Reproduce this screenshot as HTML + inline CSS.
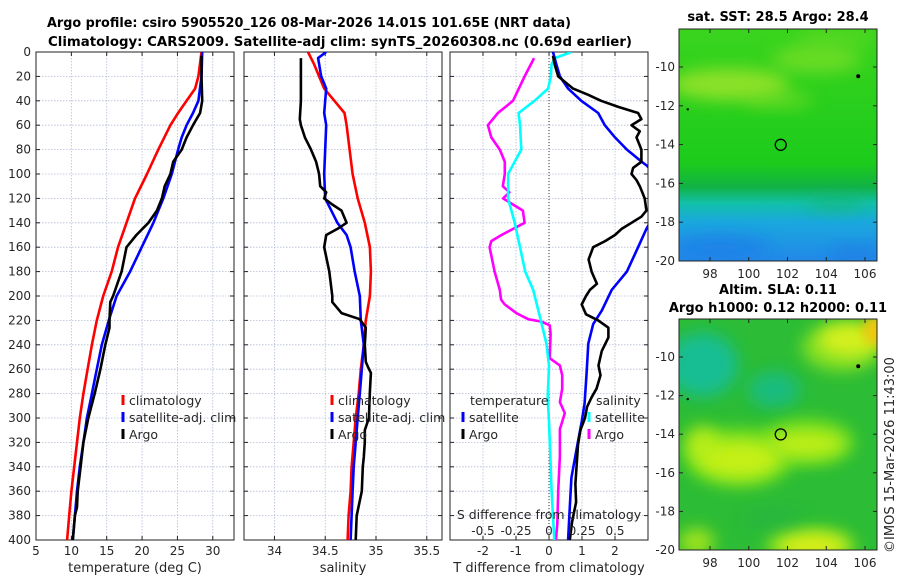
<!DOCTYPE html>
<html><head><meta charset="utf-8"><title>Argo profile</title>
<style>
html,body{margin:0;padding:0;background:#fff;}
svg{display:block;font-family:"DejaVu Sans","Liberation Sans",sans-serif;}
</style></head>
<body>
<svg id="chart" width="900" height="580" viewBox="0 0 900 580" xmlns="http://www.w3.org/2000/svg">
<defs>
<filter id="blur8" x="-50%" y="-50%" width="200%" height="200%"><feGaussianBlur stdDeviation="8"/></filter>
<filter id="blur5" x="-50%" y="-50%" width="200%" height="200%"><feGaussianBlur stdDeviation="5"/></filter>
<clipPath id="clipP1"><rect x="36" y="52" width="198" height="488"/></clipPath>
<clipPath id="clipP2"><rect x="244" y="52" width="198" height="488"/></clipPath>
<clipPath id="clipP3"><rect x="450" y="52" width="198" height="488"/></clipPath>
<clipPath id="clipM1"><rect x="679" y="29" width="198" height="232"/></clipPath>
<clipPath id="clipM2"><rect x="679" y="319" width="198" height="231"/></clipPath>
<linearGradient id="sstGrad" x1="0" y1="0" x2="0" y2="1">
<stop offset="0" stop-color="#3ad41e"/>
<stop offset="0.58" stop-color="#1ccb1c"/>
<stop offset="0.68" stop-color="#12b244"/>
<stop offset="0.75" stop-color="#12c0a8"/>
<stop offset="0.83" stop-color="#1aa8de"/>
<stop offset="1" stop-color="#2288e8"/>
</linearGradient>
</defs>
<text x="309" y="27" text-anchor="middle" font-size="13" font-weight="bold" textLength="524" lengthAdjust="spacingAndGlyphs">Argo profile: csiro 5905520_126 08-Mar-2026 14.01S 101.65E (NRT data)</text>
<text x="340" y="46" text-anchor="middle" font-size="13" font-weight="bold" textLength="584" lengthAdjust="spacingAndGlyphs">Climatology: CARS2009. Satellite-adj clim: synTS_20260308.nc (0.69d earlier)</text>
</svg>
<script>
// ---------- data ----------
const depthTicks = [0,20,40,60,80,100,120,140,160,180,200,220,240,260,280,300,320,340,360,380,400];
const tempTicks = [5,10,15,20,25,30];
const salTicks = [34,34.5,35,35.5];
const tdiffTicks = [-2,-1,0,1,2];
const sdiffTicks = [-0.5,-0.25,0,0.25,0.5];
const sdiffTickLabels = ["-0.5","-0.25","0","0.25","0.5"];

const tClimDepth = [0,20,30,40,50,60,80,100,120,140,160,180,200,220,240,260,280,300,320,340,360,380,400];
const tClimVal   = [28.4,27.96,27.5,26.3,25.1,24.0,22.3,20.7,19.0,17.8,16.6,15.7,14.5,13.6,12.9,12.3,11.7,11.2,10.8,10.4,10.0,9.7,9.4];
const tSatDepth = [0,20,40,50,60,70,80,100,120,140,160,180,200,220,240,260,280,300,320,340,360,380,400];
const tSatVal   = [28.5,28.4,27.96,27.2,26.3,25.6,25.1,24.2,23.0,21.6,19.95,18.3,16.4,15.3,14.3,13.6,12.9,12.2,11.7,11.2,10.8,10.5,10.2];
const tArgoDepth = [3,20,40,50,55,60,70,80,90,100,110,120,130,140,150,155,160,180,200,205,220,226,240,260,280,300,320,340,360,373,380,400];
const tArgoVal   = [28.4,28.4,28.5,28.2,27.7,27.2,26.3,25.6,24.4,24.0,23.2,22.8,22.1,20.9,19.2,18.5,17.8,17.1,15.9,15.5,15.4,15.4,14.8,14.1,13.3,12.4,11.7,11.3,10.9,10.8,10.5,10.2];

const sClimDepth = [0,10,20,30,40,50,60,80,100,120,140,160,180,200,220,240,260,280,300,320,340,360,380,400];
const sClimVal   = [34.33,34.39,34.44,34.49,34.59,34.69,34.71,34.74,34.77,34.82,34.89,34.94,34.95,34.94,34.90,34.88,34.85,34.83,34.80,34.78,34.76,34.75,34.73,34.72];
const sSatDepth = [0,5,20,30,40,50,60,80,100,120,130,140,150,160,180,200,220,240,260,280,300,320,340,360,380,400];
const sSatVal   = [34.51,34.43,34.46,34.51,34.50,34.49,34.51,34.50,34.49,34.50,34.56,34.62,34.71,34.75,34.79,34.84,34.85,34.88,34.86,34.84,34.82,34.80,34.78,34.77,34.76,34.75];
const sArgoDepth = [5,20,40,55,60,70,80,90,100,110,115,120,125,130,140,145,150,160,180,200,205,214,219,226,240,254,258,263,278,300,310,320,332,340,360,380,400];
const sArgoVal   = [34.26,34.26,34.26,34.25,34.26,34.30,34.36,34.41,34.44,34.45,34.51,34.49,34.57,34.66,34.71,34.62,34.51,34.49,34.54,34.57,34.57,34.66,34.84,34.90,34.89,34.90,34.92,34.95,34.94,34.93,34.89,34.89,34.88,34.87,34.86,34.81,34.80];

const dTSatDepth = [0,10,20,30,40,50,60,70,80,90,93,97,138,145,160,180,195,212,223,239,263,288,303,325,349,373,400];
const dTSatVal   = [0.12,0.22,0.33,0.58,0.98,1.49,1.69,2.0,2.36,2.81,2.96,3.1,3.1,2.95,2.7,2.36,1.9,1.6,1.34,1.19,1.14,1.08,0.99,0.84,0.68,0.63,0.58];
const dTArgoDepth = [3,10,20,30,35,40,45,50,55,60,65,70,80,90,95,100,105,110,120,130,135,140,145,150,155,160,170,180,190,195,200,207,215,220,226,234,245,257,265,276,283,291,300,310,322,338,354,369,385,400];
const dTArgoVal   = [0.12,0.17,0.28,0.73,1.18,1.58,2.1,2.7,2.8,2.5,2.75,2.65,2.8,2.8,2.55,2.5,2.65,2.75,2.9,2.95,2.8,2.5,2.2,2.0,1.7,1.34,1.2,1.29,1.45,1.24,1.12,0.99,1.12,1.49,1.8,1.8,1.6,1.5,1.56,1.44,1.29,1.15,1.09,0.95,0.88,0.84,0.8,0.82,0.7,0.63];
const dSSatDepth = [0,5,10,20,30,40,50,60,80,90,100,120,140,160,180,195,221,239,257,283,303,331,360,400];
const dSSatVal   = [0.17,0.044,0.02,0.014,-0.007,-0.11,-0.23,-0.22,-0.21,-0.26,-0.31,-0.31,-0.26,-0.22,-0.18,-0.12,-0.06,-0.02,0.0,-0.01,0.0,0.01,0.02,0.04];
const dTArgoMinusClimDepth = [5,20,40,50,60,70,80,90,100,110,115,120,130,140,150,155,160,180,195,203,207,214,219,221,224,231,251,257,265,276,287,296,303,309,331,360,387,400];
const dTArgoMinusClimVal   = [-0.45,-0.74,-1.09,-1.55,-1.85,-1.75,-1.49,-1.34,-1.34,-1.4,-1.2,-1.39,-0.79,-0.74,-1.44,-1.75,-1.8,-1.65,-1.49,-1.45,-1.34,-0.99,-0.63,-0.23,0.02,0.05,0.02,0.33,0.4,0.4,0.33,0.48,0.4,0.33,0.33,0.28,0.25,0.21];

const mapLonTicks = [98,100,102,104,106];
const mapLatTicks = [-10,-12,-14,-16,-18,-20];
const argoLon = 101.65, argoLat = -14.01;

// ---------- helpers ----------
const NS = "http://www.w3.org/2000/svg";
const svg = document.getElementById('chart');
function mk(tag, attrs, parent){
  const e = document.createElementNS(NS, tag);
  for (const k in attrs) e.setAttribute(k, attrs[k]);
  (parent || svg).appendChild(e);
  return e;
}
const Y0 = 52, Y1 = 540;
function yScale(d){ return Y0 + (d/400)*(Y1-Y0); }
function linScale(d0,d1,r0,r1){ return v => r0 + (v-d0)/(d1-d0)*(r1-r0); }

const panels = [
  {name:'temperature', x0:36, x1:234, sx: linScale(5,33,36,234), ticks: tempTicks, clip:'clipP1', label:'temperature (deg C)'},
  {name:'salinity', x0:244, x1:442, sx: linScale(33.7,35.65,244,442), ticks: salTicks, clip:'clipP2', label:'salinity'},
  {name:'difference', x0:450, x1:648, sx: linScale(-3,3,450,648), ticks: tdiffTicks, clip:'clipP3', label:'T difference from climatology'}
];
const sDiffScale = linScale(-0.75,0.75,450,648);

function drawPanel(p){
  const g = mk('g', {});
  
  
  for (const d of depthTicks){
    if (d===0 || d===400) continue;
    const l = mk('line', {x1:p.x0, x2:p.x1, y1:yScale(d), y2:yScale(d), stroke:'#b4bcd8', 'stroke-width':0.8, 'stroke-dasharray':'1.5,1.5'}, g);
    
    
  }
  for (const t of p.ticks){
    const x = p.sx(t);
    const l = mk('line', {x1:x, x2:x, y1:Y0, y2:Y1, stroke:'#b4bcd8', 'stroke-width':0.8, 'stroke-dasharray':'1.5,1.5'}, g);
    
    
    for (const yy of [[Y0,Y0+4],[Y1,Y1-4]]){
      const tk = mk('line', {x1:x, x2:x, y1:yy[0], y2:yy[1], stroke:'#222', 'stroke-width':1}, g);
      
      
    }
    const tl = mk('text', {x:x, y:555, 'text-anchor':'middle', 'font-size':12, fill:'#262626'}, g);
    
    
    tl.textContent = String(t);
  }
  for (const d of depthTicks){
    for (const xx of [[p.x0,p.x0+4],[p.x1,p.x1-4]]){
      const tk = mk('line', {x1:xx[0], x2:xx[1], y1:yScale(d), y2:yScale(d), stroke:'#222', 'stroke-width':1}, g);
      
      
    }
  }
  const fr = mk('rect', {x:p.x0, y:Y0, width:p.x1-p.x0, height:Y1-Y0, fill:'none', stroke:'#222', 'stroke-width':1}, g);
  
  
  const al = mk('text', {x:(p.x0+p.x1)/2, y:572, 'text-anchor':'middle', 'font-size':13, fill:'#262626'}, g);
  
  
  al.textContent = p.label;
  return g;
}
panels.forEach(drawPanel);

for (const d of depthTicks){
  const t = mk('text', {x:31, y:yScale(d)+4, 'text-anchor':'end', 'font-size':12, fill:'#262626'});
  
  
  t.textContent = String(d);
}

const zl = mk('line', {x1:panels[2].sx(0), x2:panels[2].sx(0), y1:Y0, y2:Y1, stroke:'#333', 'stroke-width':1, 'stroke-dasharray':'1,2'});



function series(depths, vals, sx, color, clip, name){
  let d = '';
  for (let i=0;i<depths.length;i++){
    d += (i?'L':'M') + sx(vals[i]).toFixed(1) + ',' + yScale(depths[i]).toFixed(1);
  }
  const p = mk('path', {d:d, fill:'none', stroke:color, 'stroke-width':2.6, 'stroke-linejoin':'round', 'clip-path':'url(#'+clip+')'});
  
  
}
series(tClimDepth, tClimVal, panels[0].sx, '#ff0000', 'clipP1', 'temperature-climatology-line');
series(tSatDepth, tSatVal, panels[0].sx, '#0000ff', 'clipP1', 'temperature-satellite-line');
series(tArgoDepth, tArgoVal, panels[0].sx, '#000000', 'clipP1', 'temperature-argo-line');
series(sClimDepth, sClimVal, panels[1].sx, '#ff0000', 'clipP2', 'salinity-climatology-line');
series(sSatDepth, sSatVal, panels[1].sx, '#0000ff', 'clipP2', 'salinity-satellite-line');
series(sArgoDepth, sArgoVal, panels[1].sx, '#000000', 'clipP2', 'salinity-argo-line');
series(dTArgoMinusClimDepth, dTArgoMinusClimVal, panels[2].sx, '#ff00ff', 'clipP3', 'salinity-argo-diff-line');
series(dSSatDepth, dSSatVal, sDiffScale, '#00ffff', 'clipP3', 'salinity-satellite-diff-line');
series(dTSatDepth, dTSatVal, panels[2].sx, '#0000ff', 'clipP3', 'temperature-satellite-diff-line');
series(dTArgoDepth, dTArgoVal, panels[2].sx, '#000000', 'clipP3', 'temperature-argo-diff-line');

const sdt = mk('text', {x:549, y:519, 'text-anchor':'middle', 'font-size':12.5, fill:'#262626'});


sdt.textContent = 'S difference from climatology';
for (let i=0;i<sdiffTicks.length;i++){
  const t = mk('text', {x:sDiffScale(sdiffTicks[i]), y:535, 'text-anchor':'middle', 'font-size':12, fill:'#262626'});
  
  
  t.textContent = sdiffTickLabels[i];
}

function legendEntry(x, y, color, label, name){
  const m = mk('line', {x1:x, x2:x, y1:y-10, y2:y, stroke:color, 'stroke-width':3});
  
  
  const t = mk('text', {x:x+6, y:y, 'font-size':12.5, fill:'#262626'});
  
  
  t.textContent = label;
}
legendEntry(123, 405, '#ff0000', 'climatology', 'legend-entry-climatology');
legendEntry(123, 422, '#0000ff', 'satellite-adj. clim', 'legend-entry-satellite');
legendEntry(123, 439, '#000000', 'Argo', 'legend-entry-argo');
legendEntry(332, 405, '#ff0000', 'climatology', 'legend-entry-sal-climatology');
legendEntry(332, 422, '#0000ff', 'satellite-adj. clim', 'legend-entry-sal-satellite');
legendEntry(332, 439, '#000000', 'Argo', 'legend-entry-sal-argo');
const lt1 = mk('text', {x:470, y:405, 'font-size':12.5, fill:'#262626'});


lt1.textContent = 'temperature';
legendEntry(463, 422, '#0000ff', 'satellite', 'legend-entry-tdiff-satellite');
legendEntry(463, 439, '#000000', 'Argo', 'legend-entry-tdiff-argo');
const lt2 = mk('text', {x:596, y:405, 'font-size':12.5, fill:'#262626'});


lt2.textContent = 'salinity';
legendEntry(589, 422, '#00ffff', 'satellite', 'legend-entry-sdiff-satellite');
legendEntry(589, 439, '#ff00ff', 'Argo', 'legend-entry-sdiff-argo');

// ---------- maps ----------
function drawMap(m){
  const lonX = linScale(98,106,710,865);
  const latY = linScale(-10,-20,m.yTop10,m.yBot20);
  const g = mk('g', {'clip-path':'url(#'+m.clip+')'});
  
  
  const bg = mk('rect', {x:679, y:m.y0, width:198, height:m.y1-m.y0, fill:m.bg}, g);
  
  
  for (const b of m.blobs){
    const e = mk('ellipse', {cx:lonX(b[0]), cy:latY(b[1]), rx:b[2], ry:b[3], fill:b[4], opacity:b[5], filter:'url(#'+(b[6]||'blur8')+')'}, g);
    
    
  }
  const fr = mk('rect', {x:679, y:m.y0, width:198, height:m.y1-m.y0, fill:'none', stroke:'#222', 'stroke-width':1});
  
  
  for (const lon of mapLonTicks){
    const x = lonX(lon);
    const tk = mk('line', {x1:x, x2:x, y1:m.y1, y2:m.y1-4, stroke:'#222'});
    
    
    const tk2 = mk('line', {x1:x, x2:x, y1:m.y0, y2:m.y0+4, stroke:'#222'});
    
    
    const t = mk('text', {x:x, y:m.y1+17, 'text-anchor':'middle', 'font-size':12, fill:'#262626'});
    
    
    t.textContent = String(lon);
  }
  for (const lat of mapLatTicks){
    const y = latY(lat);
    const tk = mk('line', {x1:679, x2:683, y1:y, y2:y, stroke:'#222'});
    
    
    const tk2 = mk('line', {x1:877, x2:873, y1:y, y2:y, stroke:'#222'});
    
    
    const t = mk('text', {x:675, y:y+4, 'text-anchor':'end', 'font-size':12, fill:'#262626'});
    
    
    t.textContent = String(lat);
  }
  const c = mk('circle', {cx:lonX(argoLon), cy:latY(argoLat), r:5.5, fill:'none', stroke:'#000', 'stroke-width':1.3});
  
  
  for (const isl of [[105.65,-10.48,2],[96.85,-12.18,1.2]]){
    const s = mk('circle', {cx:lonX(isl[0]), cy:latY(isl[1]), r:isl[2], fill:'#000'});
    
    
  }
}
drawMap({name:'sst-map', clip:'clipM1', y0:29, y1:261, yTop10:67, yBot20:261, bg:'url(#sstGrad)',
  blobs:[[99,-10.9,60,16,'#9ee42a',0.85],[103.5,-9.6,45,14,'#8ee22a',0.6],[101.5,-11.7,35,9,'#86e028',0.55],[104.5,-8.5,40,10,'#7cde26',0.4],[98.5,-19.3,50,12,'#1c7ee8',0.75],[105.5,-19.6,25,8,'#1c78e4',0.6],[104.5,-17.0,30,10,'#14b470',0.5]]});
drawMap({name:'sla-map', clip:'clipM2', y0:319, y1:550, yTop10:357, yBot20:550, bg:'#2cbc36',
  blobs:[[97.6,-10.4,36,32,'#14be98',0.95],[101.3,-11.7,26,18,'#16bc8c',0.85],[99.5,-15.2,55,30,'#6ede22',0.9],[103,-14.4,48,24,'#6ede22',0.9],[99.5,-15.3,42,20,'#c4f018',1],[103,-14.5,38,14,'#bcee18',1],[97.6,-14.5,18,18,'#c0f018',0.85],[104.8,-9.5,40,24,'#8ee420',0.9],[105.2,-9.1,30,16,'#d6f01a',1],[106.6,-8.6,14,16,'#f4c810',0.95,'blur5'],[103.2,-19.8,45,18,'#8ee420',0.9],[103.3,-19.8,34,12,'#dcee18',1],[97.3,-19.6,18,14,'#b4ea18',0.85],[101.3,-18.4,30,10,'#22b04a',0.5]]});

const mt1 = mk('text', {x:778, y:21, 'text-anchor':'middle', 'font-size':13, 'font-weight':'bold', fill:'#000'});


mt1.textContent = 'sat. SST: 28.5 Argo: 28.4';
const mt2 = mk('text', {x:778, y:294, 'text-anchor':'middle', 'font-size':13, 'font-weight':'bold', fill:'#000'});


mt2.textContent = 'Altim. SLA: 0.11';
const mt3 = mk('text', {x:778, y:312, 'text-anchor':'middle', 'font-size':13, 'font-weight':'bold', fill:'#000'});


mt3.textContent = 'Argo h1000: 0.12 h2000: 0.11';
const cr = mk('text', {x:0, y:0, 'text-anchor':'middle', 'font-size':13, fill:'#262626', transform:'translate(894,455) rotate(-90)'});


cr.textContent = '©IMOS 15-Mar-2026 11:43:00';
</script>
</body></html>
